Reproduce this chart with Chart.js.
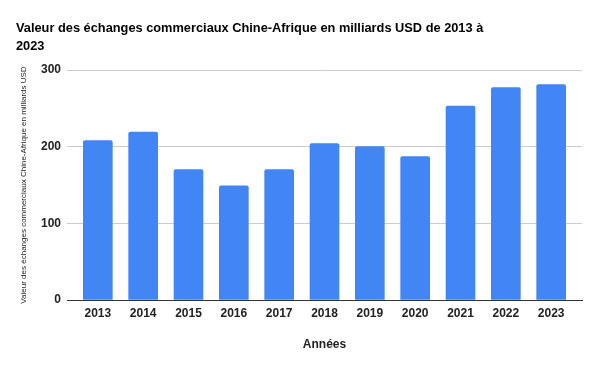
<!DOCTYPE html>
<html>
<head>
<meta charset="utf-8">
<script src="https://cdn.jsdelivr.net/npm/chart.js@4"></script>
<style>
  html, body { margin: 0; padding: 0; background: #fff; }
  #wrap { width: 600px; height: 371px; }
</style>
</head>
<body>
<div id="wrap"><canvas id="chart"></canvas></div>
<script>
// DATA
const years = [2013, 2014, 2015, 2016, 2017, 2018, 2019, 2020, 2021, 2022, 2023];
const values = [208, 219, 170, 149, 170, 204, 200, 187, 253, 277, 281];
const yTicks = [0, 100, 200, 300];

const titleLines = ["Valeur des échanges commerciaux Chine-Afrique en milliards USD de 2013 à", "2023"];
const yTitle = "Valeur des échanges commerciaux Chine-Afrique en milliards USD";
const xTitle = "Années";

const FONT = "'Liberation Sans', Arial, sans-serif";

new Chart(document.getElementById("chart"), {
  type: "bar",
  data: {
    datasets: [{
      data: years.map((y, i) => ({ x: y, y: values[i] })),
      backgroundColor: "#4285f4",
      borderRadius: { topLeft: 2, topRight: 2 },
      borderSkipped: "start",
      barThickness: 29
    }]
  },
  options: {
    responsive: true,
    maintainAspectRatio: false,
    animation: false,
    layout: { padding: { left: 16, right: 18, top: 0, bottom: 0 } },
    plugins: {
      legend: { display: false },
      tooltip: { enabled: false },
      title: {
        display: true,
        text: titleLines,
        align: "start",
        color: "#000",
        font: { family: FONT, size: 12.8, weight: "bold", lineHeight: 18 / 12.8 },
        padding: { top: 19, bottom: 15 }
      }
    },
    scales: {
      x: {
        type: "linear",
        min: 2012.32,
        max: 2023.68,
        offset: false,
        grid: { display: false, drawTicks: false },
        border: { display: true, color: "#333", width: 1 },
        afterBuildTicks: axis => { axis.ticks = years.map(v => ({ value: v })); },
        afterFit: axis => { axis.height = 71; },
        ticks: {
          padding: 6,
          color: "#222",
          maxRotation: 0,
          autoSkip: false,
          font: { family: FONT, size: 12, weight: "bold" },
          callback: v => String(v)
        },
        title: {
          display: true,
          text: xTitle,
          color: "#222",
          font: { family: FONT, size: 12, weight: "bold" },
          padding: { top: 0, bottom: 19 }
        }
      },
      y: {
        min: 0,
        max: 300,
        afterBuildTicks: axis => { axis.ticks = yTicks.map(v => ({ value: v })); },
        afterFit: axis => { axis.width = 51; },
        grid: {
          drawTicks: false,
          color: c => (c.tick && c.tick.value === 0 ? "#333" : "#cccccc")
        },
        border: { display: false },
        ticks: {
          padding: 6,
          color: "#222",
          font: { family: FONT, size: 12, weight: "bold" }
        },
        title: {
          display: true,
          text: yTitle,
          color: "#222",
          font: { family: FONT, size: 8 },
          padding: { top: 3, bottom: 0 }
        }
      }
    }
  }
});
</script>
</body>
</html>
